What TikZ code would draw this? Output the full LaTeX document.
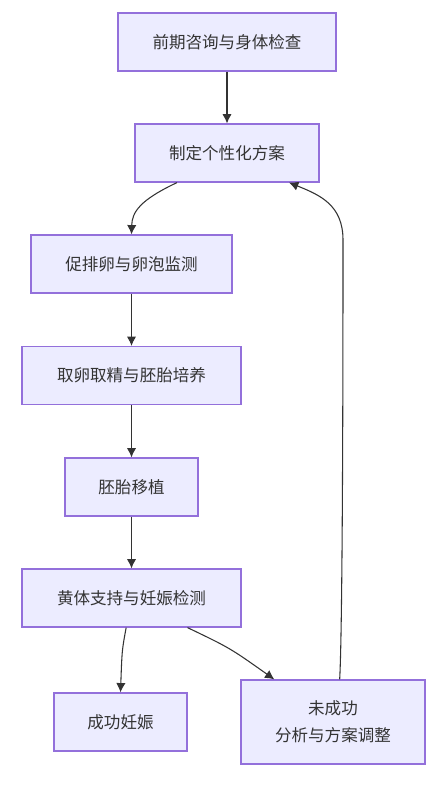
\documentclass[tikz,border=0pt]{standalone}
\usepackage{fontspec}
\setmainfont{Noto Sans CJK SC}
\usetikzlibrary{arrows.meta}
\definecolor{boxfill}{HTML}{ECECFF}
\definecolor{boxline}{HTML}{9370DB}
\definecolor{ink}{HTML}{333333}
\begin{document}
\begin{tikzpicture}[x=0.75pt, y=-0.75pt,
    box/.style={draw=boxline, fill=boxfill, line width=0.9pt, inner sep=0pt,
      text=ink, align=center, minimum height=43.5pt,
      font=\fontsize{12.4}{20}\selectfont},
    flow/.style={draw=ink, line width=0.8pt, -{Latex[length=7pt, width=7pt]}}]
    \useasboundingbox (0,0) rectangle (447,789);
%% the steps, placed at their centres
    \node[box, minimum width=163.5pt] (consult) at (227,42) {前期咨询与身体检查};
    \node[box, minimum width=138pt] (plan) at (227,153) {制定个性化方案};
    \node[box, minimum width=150.75pt] (stim) at (131.5,264) {促排卵与卵泡监测};
    \node[box, minimum width=164.25pt] (retrieve) at (131.5,375.5) {取卵取精与胚胎培养};
    \node[box, minimum width=99.75pt] (transfer) at (131.5,487) {胚胎移植};
    \node[box, minimum width=164.25pt] (support) at (131.5,598) {黄体支持与妊娠检测};
    \node[box, minimum width=99.75pt] (success) at (120.5,722) {成功妊娠};
    \node[box, minimum width=138pt, minimum height=63pt] (fail) at (333,722) {未成功\\分析与方案调整};
%% connectors
    \draw[flow] (consult) -- (plan);
    \draw[flow] ([xshift=-37.5pt]plan.south) .. controls (140,200) and (132,212) .. (stim.north);
    \draw[flow] (stim) -- (retrieve);
    \draw[flow] (retrieve) -- (transfer);
    \draw[flow] (transfer) -- (support);
    \draw[flow] ([xshift=-4pt]support.south) .. controls (122,650) .. (success.north);
    \draw[flow] ([xshift=42pt]support.south) .. controls (230,648) .. ([xshift=-44pt]fail.north);
    \draw[flow] ([xshift=5pt]fail.north) .. controls (343,620) and (343,300) .. (343,240)
      .. controls (343,205) and (320,195) .. ([xshift=46.5pt]plan.south);
\end{tikzpicture}
\end{document}
